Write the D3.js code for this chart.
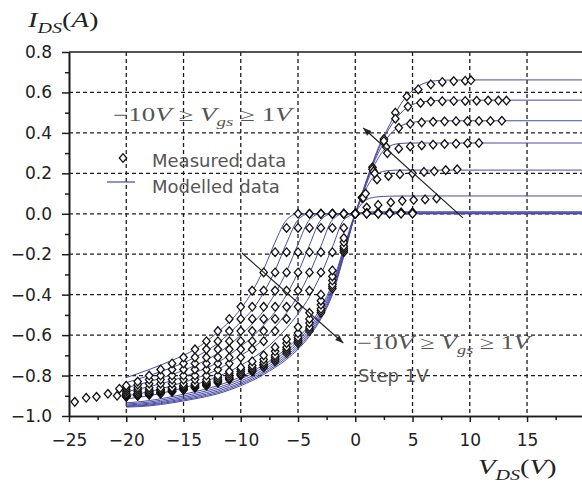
<!DOCTYPE html>
<html>
<head>
<meta charset="utf-8">
<script src="https://cdnjs.cloudflare.com/ajax/libs/d3/7.8.5/d3.min.js"></script>
<style>
body { margin: 0; background: #fff; }
</style>
</head>
<body>
<div id="chart"></div>
<script>
// gate voltages, one curve each
var vgs = [1, 0, -1, -2, -3, -4, -5, -6, -7, -8, -9, -10];

// modelled curves, shared V_DS grid
var vdsModel = [-20, -18, -16, -14, -12, -10, -9, -8, -7, -6, -5, -4, -3, -2, -1, 0,
                0.5, 1, 1.5, 2, 2.5, 3, 4, 5, 6, 7, 8, 10, 20];

var idsModel = [
  [-0.956,-0.95,-0.935,-0.915,-0.89,-0.85,-0.825,-0.795,-0.76,-0.72,-0.67,-0.605,-0.52,-0.40,-0.21,0,
   0.085,0.17,0.25,0.325,0.385,0.44,0.545,0.61,0.645,0.658,0.661,0.662,0.662],
  [-0.953,-0.946,-0.93,-0.91,-0.884,-0.843,-0.818,-0.788,-0.752,-0.711,-0.661,-0.596,-0.511,-0.391,-0.204,0,
   0.083,0.165,0.245,0.315,0.375,0.425,0.5,0.54,0.555,0.56,0.562,0.562,0.562],
  [-0.95,-0.942,-0.925,-0.904,-0.877,-0.836,-0.81,-0.78,-0.743,-0.702,-0.651,-0.586,-0.501,-0.381,-0.197,0,
   0.08,0.16,0.235,0.3,0.35,0.39,0.435,0.452,0.458,0.46,0.46,0.46,0.46],
  [-0.946,-0.937,-0.919,-0.897,-0.869,-0.827,-0.801,-0.77,-0.733,-0.691,-0.64,-0.575,-0.49,-0.37,-0.189,0,
   0.077,0.15,0.22,0.275,0.315,0.335,0.348,0.35,0.35,0.35,0.35,0.35,0.35],
  [-0.941,-0.931,-0.912,-0.889,-0.86,-0.817,-0.79,-0.759,-0.721,-0.679,-0.628,-0.563,-0.478,-0.358,-0.18,0,
   0.07,0.13,0.175,0.2,0.21,0.214,0.216,0.216,0.216,0.216,0.216,0.216,0.216],
  [-0.935,-0.924,-0.904,-0.88,-0.85,-0.806,-0.779,-0.747,-0.709,-0.666,-0.614,-0.549,-0.464,-0.344,-0.17,0,
   0.045,0.07,0.08,0.084,0.086,0.087,0.088,0.088,0.088,0.088,0.088,0.088,0.088],
  [-0.915,-0.90,-0.875,-0.845,-0.805,-0.75,-0.715,-0.675,-0.625,-0.565,-0.495,-0.41,-0.30,-0.165,-0.03,0,
   0.006,0.009,0.01,0.01,0.01,0.01,0.01,0.01,0.01,0.01,0.01,0.01,0.01],
  [-0.90,-0.88,-0.85,-0.815,-0.77,-0.70,-0.665,-0.62,-0.56,-0.49,-0.405,-0.295,-0.16,-0.03,0,0,
   0.003,0.004,0.005,0.005,0.005,0.005,0.005,0.005,0.005,0.005,0.005,0.005,0.005],
  [-0.88,-0.855,-0.825,-0.785,-0.735,-0.655,-0.61,-0.55,-0.485,-0.40,-0.29,-0.155,-0.03,0,0,0,
   0.002,0.003,0.003,0.003,0.003,0.003,0.003,0.003,0.003,0.003,0.003,0.003,0.003],
  [-0.86,-0.83,-0.795,-0.75,-0.69,-0.60,-0.545,-0.48,-0.395,-0.285,-0.15,-0.03,0,0,0,0,
   0.001,0.002,0.002,0.002,0.002,0.002,0.002,0.002,0.002,0.002,0.002,0.002,0.002],
  [-0.835,-0.80,-0.76,-0.71,-0.64,-0.535,-0.475,-0.39,-0.28,-0.145,-0.03,0,0,0,0,0,
   0.001,0.001,0.001,0.001,0.001,0.001,0.001,0.001,0.001,0.001,0.001,0.001,0.001],
  [-0.81,-0.77,-0.725,-0.67,-0.585,-0.47,-0.385,-0.275,-0.14,-0.03,0,0,0,0,0,0,
   0,0,0,0,0,0,0,0,0,0,0,0,0]
];

// measured data, negative V_DS (same grid for every curve)
var vdsMeasNeg = [0,-1,-2,-3,-4,-5,-6,-7,-8,-9,-10,-11,-12,-13,-14,-15,-16,-17,-18,-19,-20];

var idsMeasNeg = [
  [0,-0.19,-0.37,-0.49,-0.58,-0.64,-0.69,-0.73,-0.76,-0.78,-0.80,-0.82,-0.835,-0.85,-0.86,-0.87,-0.88,-0.89,-0.895,-0.90,-0.905],
  [0,-0.18,-0.36,-0.48,-0.57,-0.63,-0.68,-0.72,-0.75,-0.775,-0.795,-0.815,-0.83,-0.845,-0.86,-0.87,-0.88,-0.885,-0.895,-0.90,-0.905],
  [0,-0.17,-0.35,-0.47,-0.56,-0.62,-0.67,-0.71,-0.745,-0.77,-0.79,-0.81,-0.825,-0.84,-0.855,-0.865,-0.875,-0.885,-0.89,-0.90,-0.905],
  [0,-0.16,-0.33,-0.45,-0.54,-0.61,-0.66,-0.70,-0.735,-0.76,-0.78,-0.80,-0.82,-0.835,-0.85,-0.86,-0.87,-0.88,-0.89,-0.895,-0.90],
  [0,-0.14,-0.31,-0.43,-0.52,-0.59,-0.64,-0.68,-0.72,-0.75,-0.77,-0.79,-0.81,-0.83,-0.845,-0.855,-0.865,-0.875,-0.885,-0.895,-0.90],
  [0,-0.12,-0.28,-0.40,-0.49,-0.56,-0.62,-0.66,-0.70,-0.73,-0.76,-0.78,-0.80,-0.82,-0.84,-0.85,-0.86,-0.87,-0.88,-0.89,-0.90],
  [0,-0.07,-0.19,-0.29,-0.38,-0.46,-0.52,-0.58,-0.63,-0.67,-0.71,-0.74,-0.77,-0.80,-0.82,-0.84,-0.86,-0.87,-0.88,-0.89,-0.895],
  [0,0,-0.07,-0.19,-0.29,-0.38,-0.46,-0.52,-0.58,-0.63,-0.67,-0.71,-0.74,-0.77,-0.80,-0.82,-0.84,-0.86,-0.87,-0.88,-0.89],
  [0,0,0,-0.07,-0.19,-0.29,-0.38,-0.46,-0.52,-0.58,-0.63,-0.67,-0.71,-0.74,-0.77,-0.80,-0.82,-0.84,-0.86,-0.87,-0.88],
  [0,0,0,0,-0.07,-0.19,-0.29,-0.38,-0.46,-0.52,-0.58,-0.63,-0.67,-0.71,-0.74,-0.77,-0.80,-0.82,-0.84,-0.86,-0.87],
  [0,0,0,0,0,-0.07,-0.19,-0.29,-0.38,-0.46,-0.52,-0.58,-0.63,-0.67,-0.71,-0.74,-0.77,-0.80,-0.82,-0.845,-0.86],
  [0,0,0,0,0,0,-0.07,-0.19,-0.29,-0.38,-0.46,-0.52,-0.58,-0.63,-0.67,-0.71,-0.74,-0.77,-0.80,-0.83,-0.85]
];

// the few measured points beyond -20 V
var vdsMeasTail = [-24.5, -23.5, -22.6, -21.6, -20.8, -20.6];
var idsMeasTail = [-0.93, -0.91, -0.905, -0.89, -0.90, -0.865];

// measured data, positive V_DS
var vdsMeasPos = [
  [0,0.6,1.5,2.5,3.5,4.5,5.5,6.6,7.6,8.6,9.6,10.1],
  [0,0.6,1.5,2.5,3.5,4.6,5.7,6.6,7.6,8.6,9.6,10.6,11.6,12.5,13.2],
  [0,0.6,1.6,2.7,3.8,4.8,5.8,6.8,7.8,8.8,9.8,10.8,11.8,12.8],
  [0,0.7,1.7,2.8,3.8,4.8,5.8,6.8,7.8,8.8,9.8,10.8],
  [0,0.9,1.9,2.9,3.9,5.0,6.0,6.9,7.9,8.9],
  [0,1.0,2.0,3.1,4.1,5.1,6.1,7.1],
  [0,1,2,3,4,5],
  [0,1,2,3,4,5],
  [0,1,2,3,4,5],
  [0,1,2,3,4,5],
  [0,1,2,3,4,5],
  [0,1,2,3,4,5]
];
var idsMeasPos = [
  [0,0.08,0.23,0.37,0.5,0.58,0.615,0.64,0.652,0.656,0.658,0.66],
  [0,0.08,0.22,0.36,0.47,0.53,0.548,0.555,0.557,0.558,0.558,0.559,0.56,0.56,0.56],
  [0,0.08,0.21,0.33,0.425,0.445,0.452,0.455,0.457,0.458,0.458,0.459,0.459,0.46],
  [0,0.08,0.2,0.3,0.322,0.333,0.338,0.342,0.345,0.347,0.349,0.35],
  [0,0.1,0.17,0.187,0.196,0.2,0.207,0.21,0.216,0.22],
  [0,0.031,0.044,0.056,0.064,0.068,0.071,0.076],
  [0,0.004,0.005,0.005,0.006,0.006],
  [0,0.003,0.004,0.004,0.005,0.005],
  [0,0.002,0.003,0.003,0.004,0.004],
  [0,0.002,0.002,0.003,0.003,0.003],
  [0,0.001,0.001,0.002,0.002,0.002],
  [0,0.001,0.001,0.001,0.001,0.001]
];

var xTicks = [-25, -20, -15, -10, -5, 0, 5, 10, 15];
var xMinorTicks = [-22.5, -17.5, -12.5, -7.5, -2.5, 2.5, 7.5, 12.5, 17.5];
var yTicks = [-1.0, -0.8, -0.6, -0.4, -0.2, 0.0, 0.2, 0.4, 0.6, 0.8];
var yMinorTicks = [-0.9, -0.7, -0.5, -0.3, -0.1, 0.1, 0.3, 0.5, 0.7];

// annotation arrows, [tail, head] in data units
var arrowVds = [[9.4, 0.7], [-9.9, -1.05]];
var arrowIds = [[-0.02, 0.424], [-0.194, -0.639]];

var width = 582, height = 484;
var svg = d3.select("#chart").append("svg")
    .attr("width", width)
    .attr("height", height)
    .style("display", "block");

var x = d3.scaleLinear().domain([-25, 20]).range([69, 584.3]);
var y = d3.scaleLinear().domain([-1.0, 0.8]).range([416, 52]);

var ink = "#1c1c1c";
var blue = "#4a4aa6";

// grid
var grid = svg.append("g")
    .attr("stroke", ink)
    .attr("stroke-width", 1.3)
    .attr("stroke-dasharray", "4,3");
grid.selectAll("line.gx")
  .data(xTicks.filter(function(d) { return d > -25; }))
  .enter().append("line")
    .attr("class", "gx")
    .attr("x1", function(d) { return x(d); })
    .attr("x2", function(d) { return x(d); })
    .attr("y1", y(0.8))
    .attr("y2", y(-1.0));
grid.selectAll("line.gy")
  .data(yTicks.filter(function(d) { return d > -1.0 && d < 0.8; }))
  .enter().append("line")
    .attr("class", "gy")
    .attr("x1", x(-25))
    .attr("x2", width)
    .attr("y1", function(d) { return y(d); })
    .attr("y2", function(d) { return y(d); });

// axes
function styleAxis(g) {
  g.select(".domain").attr("stroke", ink).attr("stroke-width", 1.6);
  g.selectAll(".tick line").attr("stroke", ink).attr("stroke-width", 1.5);
  g.selectAll(".tick text")
    .attr("fill", "#222")
    .style("font-family", "'DejaVu Sans', sans-serif")
    .style("font-size", "17px");
}

svg.append("g")
    .attr("transform", "translate(0," + y(-1.0) + ")")
    .call(d3.axisBottom(x).tickValues(xMinorTicks).tickSize(4).tickSizeOuter(0).tickFormat(""))
    .call(styleAxis);
svg.append("g")
    .attr("transform", "translate(0," + y(-1.0) + ")")
    .call(d3.axisBottom(x).tickValues(xTicks).tickSize(6).tickSizeOuter(0)
      .tickPadding(12).tickFormat(d3.format("d")))
    .call(styleAxis);

svg.append("g")
    .attr("transform", "translate(" + x(-25) + ",0)")
    .call(d3.axisLeft(y).tickValues(yMinorTicks).tickSize(4).tickSizeOuter(0).tickFormat(""))
    .call(styleAxis);
svg.append("g")
    .attr("transform", "translate(" + x(-25) + ",0)")
    .call(d3.axisLeft(y).tickValues(yTicks).tickSize(7).tickSizeOuter(0)
      .tickPadding(10).tickFormat(d3.format(".1f")))
    .call(styleAxis);

// top frame line
svg.append("line")
    .attr("x1", x(-25)).attr("x2", width)
    .attr("y1", y(0.8)).attr("y2", y(0.8))
    .attr("stroke", ink).attr("stroke-width", 1.6);

// modelled curves
var line = d3.line()
    .x(function(d) { return x(d[0]); })
    .y(function(d) { return y(d[1]); })
    .curve(d3.curveMonotoneX);

svg.append("g").selectAll("path")
  .data(vgs.map(function(v, i) {
    return vdsModel.map(function(vd, j) { return [vd, idsModel[i][j]]; });
  }))
  .enter().append("path")
    .attr("d", line)
    .attr("fill", "none")
    .attr("stroke", blue)
    .attr("stroke-width", 1);

// measured points
var measured = [];
vgs.forEach(function(v, i) {
  vdsMeasNeg.forEach(function(vd, j) { measured.push([vd, idsMeasNeg[i][j]]); });
  vdsMeasPos[i].forEach(function(vd, j) { measured.push([vd, idsMeasPos[i][j]]); });
});
vdsMeasTail.forEach(function(vd, j) { measured.push([vd, idsMeasTail[j]]); });

var diamond = "M0,-4.3L3.7,0L0,4.3L-3.7,0Z";

svg.append("g").selectAll("path")
  .data(measured)
  .enter().append("path")
    .attr("d", diamond)
    .attr("transform", function(d) { return "translate(" + x(d[0]) + "," + y(d[1]) + ")"; })
    .attr("fill", "#fff")
    .attr("stroke", "#111")
    .attr("stroke-width", 1.3);

// arrows
svg.append("defs").append("marker")
    .attr("id", "head")
    .attr("viewBox", "0 -5 10 10")
    .attr("refX", 10)
    .attr("refY", 0)
    .attr("markerUnits", "userSpaceOnUse")
    .attr("markerWidth", 11)
    .attr("markerHeight", 8)
    .attr("orient", "auto")
  .append("path")
    .attr("d", "M0,-4L10,0L0,4Z")
    .attr("fill", "#222");

svg.append("g").selectAll("line")
  .data([0, 1])
  .enter().append("line")
    .attr("x1", function(i) { return x(arrowVds[i][0]); })
    .attr("y1", function(i) { return y(arrowIds[i][0]); })
    .attr("x2", function(i) { return x(arrowVds[i][1]); })
    .attr("y2", function(i) { return y(arrowIds[i][1]); })
    .attr("stroke", "#222")
    .attr("stroke-width", 1.2)
    .attr("marker-end", "url(#head)");

// serif maths text, stretched a little wider like the original
function mathText(px, py, size, sx, color, parts) {
  var t = svg.append("g")
      .attr("transform", "translate(" + px + "," + py + ") scale(" + sx + ",1)")
    .append("text")
      .attr("fill", color)
      .style("font-family", "'Liberation Serif', 'DejaVu Serif', serif")
      .style("font-size", size + "px")
      .style("white-space", "pre");
  var low = false;
  parts.forEach(function(p) {
    var s = t.append("tspan").text(p[0]);
    if (p[1]) s.style("font-style", "italic");
    if (p[2]) {
      s.style("font-size", (size * 0.7) + "px");
      if (!low) s.attr("dy", size * 0.28);
      low = true;
    } else if (low) {
      s.attr("dy", -size * 0.28);
      low = false;
    }
  });
}

mathText(28, 27, 22, 1.3, "#222", [["I",1],["DS",1,1],["(",0],["A",1],[")",0]]);
mathText(478, 474, 22, 1.3, "#222", [["V",1],["DS",1,1],["(",0],["V",1],[")",0]]);

var rangeParts = [["\u221210",0],["V",1],[" \u2265 ",0],["V",1],["gs",1,1],[" \u2265 ",0],["1",0],["V",1]];
mathText(113, 121, 18, 1.5, "#555", rangeParts);
mathText(357, 349, 18, 1.45, "#555", rangeParts);

svg.append("text")
    .attr("x", 358)
    .attr("y", 382)
    .attr("fill", "#555")
    .style("font-family", "'DejaVu Sans', sans-serif")
    .style("font-size", "18px")
    .text("Step 1V");

// legend
var legend = svg.append("g");
legend.append("path")
    .attr("d", diamond)
    .attr("transform", "translate(123,158)")
    .attr("fill", "#fff")
    .attr("stroke", "#111")
    .attr("stroke-width", 1.3);
legend.append("line")
    .attr("x1", 107).attr("x2", 135)
    .attr("y1", 182).attr("y2", 182)
    .attr("stroke", blue)
    .attr("stroke-width", 1.2);
legend.selectAll("text")
  .data([["Measured data", 167], ["Modelled data", 193]])
  .enter().append("text")
    .attr("x", 152)
    .attr("y", function(d) { return d[1]; })
    .attr("fill", "#555")
    .style("font-family", "'DejaVu Sans', sans-serif")
    .style("font-size", "18px")
    .text(function(d) { return d[0]; });
</script>
</body>
</html>
